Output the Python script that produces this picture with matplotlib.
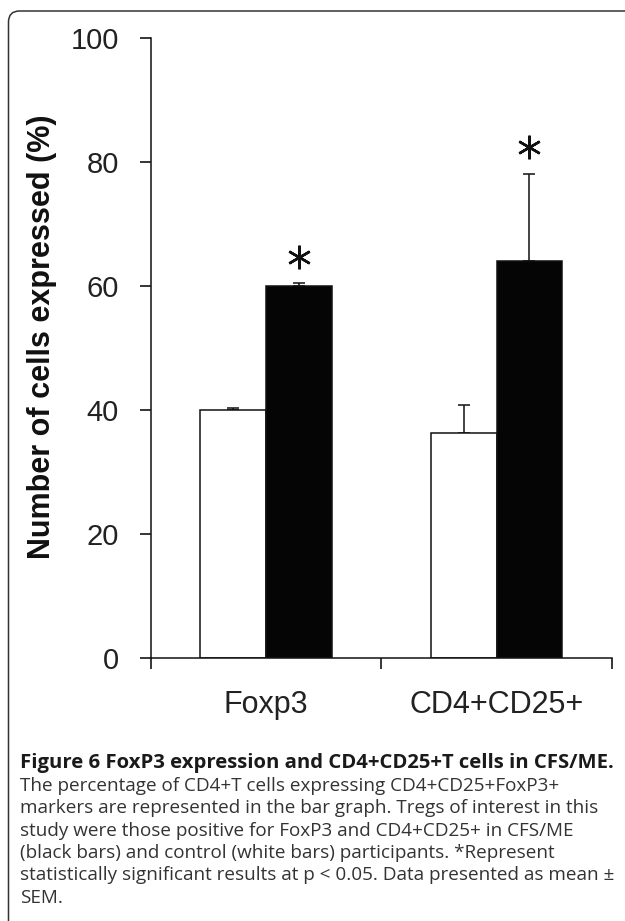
import matplotlib
matplotlib.use('Agg')
import numpy as np
import matplotlib.pyplot as plt
from matplotlib.patches import FancyBboxPatch
from matplotlib import font_manager

# данные
categories = ['Foxp3', 'CD4+CD25+']
control_mean = [40.0, 36.2]
control_sem = [0.2, 4.5]
cfs_mean = [60.0, 64.0]
cfs_sem = [0.4, 14.0]
significant = [True, True]
yticks = [0, 20, 40, 60, 80, 100]

caption_bold = 'Figure 6 FoxP3 expression and CD4+CD25+T cells in CFS/ME.'
caption_lines = [
    'The percentage of CD4+T cells expressing CD4+CD25+FoxP3+',
    'markers are represented in the bar graph. Tregs of interest in this',
    'study were those positive for FoxP3 and CD4+CD25+ in CFS/ME',
    '(black bars) and control (white bars) participants. *Represent',
    'statistically significant results at p < 0.05. Data presented as mean \u00b1',
    'SEM.',
]

names = {f.name for f in font_manager.fontManager.ttflist}
narrow = 'Liberation Sans Narrow' if 'Liberation Sans Narrow' in names else 'Liberation Sans'

fig = plt.figure(figsize=(6.25, 9.21), dpi=100)

# рамка и подпись
bg = fig.add_axes([0, 0, 1, 1])
bg.set_xlim(0, 625)
bg.set_ylim(921, 0)
bg.axis('off')
bg.add_patch(FancyBboxPatch((8.5, 11), 700, 1000, boxstyle='round,pad=0,rounding_size=11',
                            fc='none', ec='#333333', lw=1.1))
bg.text(20, 763, caption_bold, fontsize=14.6, fontweight='bold', family='Open Sans',
        color='#1a1a1a', va='center', ha='left')
for i, line in enumerate(caption_lines):
    bg.text(20, 786 + i * 22.3, line, fontsize=13.6, family='Open Sans',
            color='#333333', va='center', ha='left')

# график
ax = fig.add_axes([0.2411, 0.2859, 0.7378, 0.6732])
x = np.arange(len(categories))
w = 0.2845
ax.bar(x - w / 2, control_mean, w, color='white', edgecolor='#111111', lw=1.1, zorder=2)
ax.bar(x + w / 2, cfs_mean, w, color='#050505', edgecolor='#111111', lw=1.1, zorder=2)
ax.errorbar(x - w / 2, control_mean, yerr=[np.zeros(2), control_sem], fmt='none',
            ecolor='#111111', elinewidth=1.1, capsize=4.5, capthick=1.1, zorder=1)
ax.errorbar(x + w / 2, cfs_mean, yerr=[np.zeros(2), cfs_sem], fmt='none',
            ecolor='#111111', elinewidth=1.1, capsize=4.5, capthick=1.1, zorder=1)
for i, s in enumerate(significant):
    if s:
        ax.plot(x[i] + w / 2, cfs_mean[i] + cfs_sem[i] + 4.3, marker=(6, 2, 0),
                ms=17, mew=1.8, color='#111111', clip_on=False)

ax.set_xlim(-0.5, len(categories) - 0.5)
ax.set_ylim(0, 100)
ax.set_yticks(yticks)
ax.set_yticklabels([str(t) for t in yticks], family=narrow, fontsize=21, color='#222222')
ax.set_xticks(np.arange(len(categories) + 1) - 0.5)
ax.set_xticklabels([])
ax.set_xticks(x, minor=True)
ax.set_xticklabels(categories, minor=True, family=narrow, fontsize=22, color='#222222')
ax.tick_params(axis='x', which='minor', length=0, pad=23)
ax.tick_params(axis='x', which='major', length=8, width=1.1, direction='out')
ax.tick_params(axis='y', length=8, width=1.1, direction='out', pad=15)
for sp in ['top', 'right']:
    ax.spines[sp].set_visible(False)
for sp in ['left', 'bottom']:
    ax.spines[sp].set_linewidth(1.1)
    ax.spines[sp].set_color('#111111')
ax.set_ylabel('Number of cells expressed (%)', fontsize=22, fontweight='bold',
              family='Liberation Sans', color='#111111')
ax.yaxis.set_label_coords(-0.236, 0.517)
ax.yaxis.label.set_verticalalignment('center')

fig.savefig('out.png', dpi=100)
